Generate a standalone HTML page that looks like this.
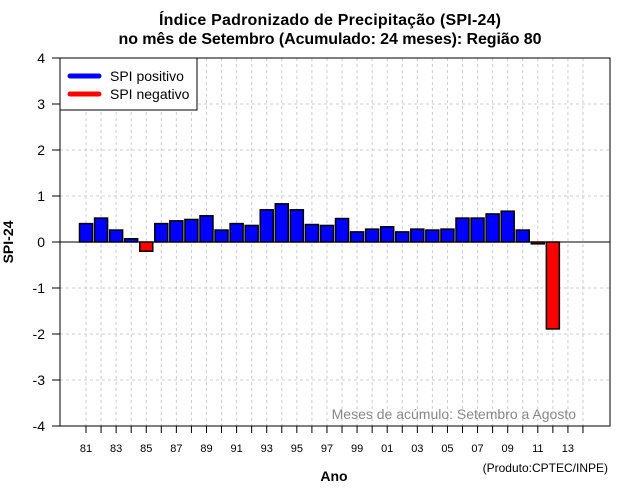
<!DOCTYPE html>
<html><head><meta charset="utf-8"><style>
body{margin:0;background:#fff}
svg{display:block;font-family:"Liberation Sans",sans-serif}
</style></head><body>
<svg id="c" width="640" height="500">
<text x="330" y="25" text-anchor="middle" font-size="16" font-weight="bold" textLength="342">Índice Padronizado de Precipitação (SPI-24)</text>
<text x="330" y="44" text-anchor="middle" font-size="16" font-weight="bold" textLength="423">no mês de Setembro (Acumulado: 24 meses): Região 80</text>
<g id="grid"></g>
<g id="bars"></g>
<g id="axes"></g>
<text x="13" y="242" text-anchor="middle" font-size="14" font-weight="bold" transform="rotate(-90 13 242)">SPI-24</text>
<text x="334" y="481" text-anchor="middle" font-size="14" font-weight="bold">Ano</text>
<text x="608" y="472" text-anchor="end" font-size="12">(Produto:CPTEC/INPE)</text>
<text x="576" y="419" text-anchor="end" font-size="14" fill="#888">Meses de acúmulo: Setembro a Agosto</text>
<g>
<rect x="60" y="58" width="137" height="52" fill="#fff" stroke="#000"/>
<line x1="70" y1="76" x2="99" y2="76" stroke="#0000ff" stroke-width="5" stroke-linecap="round"/>
<text x="110" y="81" font-size="14">SPI positivo</text>
<line x1="70" y1="94" x2="99" y2="94" stroke="#ff0000" stroke-width="5" stroke-linecap="round"/>
<text x="110" y="99" font-size="14">SPI negativo</text>
</g>
</svg>
<script>
const years=[1981,1982,1983,1984,1985,1986,1987,1988,1989,1990,1991,1992,1993,1994,1995,1996,1997,1998,1999,2000,2001,2002,2003,2004,2005,2006,2007,2008,2009,2010,2011,2012];
const spi=[0.40,0.52,0.26,0.07,-0.20,0.40,0.46,0.49,0.57,0.26,0.40,0.36,0.70,0.83,0.70,0.38,0.36,0.51,0.22,0.28,0.33,0.22,0.28,0.26,0.28,0.52,0.52,0.61,0.67,0.26,-0.04,-1.89];
const yTicks=[4,3,2,1,0,-1,-2,-3,-4];
const xLabels=["81","83","85","87","89","91","93","95","97","99","01","03","05","07","09","11","13"];
const NS="http://www.w3.org/2000/svg";
const L=60,R=610,T=58,B=426;
const y=v=>242-v*46;
const x=yr=>86+(yr-1981)*15.06;
function mk(t,a,p){const e=document.createElementNS(NS,t);for(const k in a)e.setAttribute(k,a[k]);p.appendChild(e);return e;}
const g=document.getElementById('grid'),b=document.getElementById('bars'),ax=document.getElementById('axes');
yTicks.forEach(v=>{if(v!==4&&v!==-4){const l=mk('line',{x1:L,x2:R,y1:y(v),y2:y(v),stroke:'#ccc','stroke-dasharray':'3,3'},g);

}});
for(let yr=1981;yr<=2014;yr++){const l=mk('line',{x1:x(yr),x2:x(yr),y1:T,y2:B,stroke:'#ccc','stroke-dasharray':'3,3'},g);

}
years.forEach((yr,i)=>{const v=spi[i];const r=mk('rect',{x:x(yr)-6.5,width:13,y:Math.min(y(v),y(0)),height:Math.abs(y(v)-y(0)),fill:v>=0?'#0000ff':'#ff0000',stroke:'#000','stroke-width':1.5},b);

});
mk('rect',{x:L,y:T,width:R-L,height:B-T,fill:'none',stroke:'#000'},ax);
mk('line',{x1:L,x2:R,y1:y(0),y2:y(0),stroke:'#000'},ax);
yTicks.forEach(v=>{mk('line',{x1:52,x2:L,y1:y(v),y2:y(v),stroke:'#000'},ax);
const t=mk('text',{x:45,y:y(v)+5,'text-anchor':'end','font-size':14},ax);t.textContent=v;

});
for(let yr=1981;yr<=2014;yr++)mk('line',{x1:x(yr),x2:x(yr),y1:B,y2:B+7,stroke:'#000'},ax);
xLabels.forEach((s,i)=>{const t=mk('text',{x:x(1981+2*i),y:452,'text-anchor':'middle','font-size':11},ax);t.textContent=s;

});
</script>
</body></html>
